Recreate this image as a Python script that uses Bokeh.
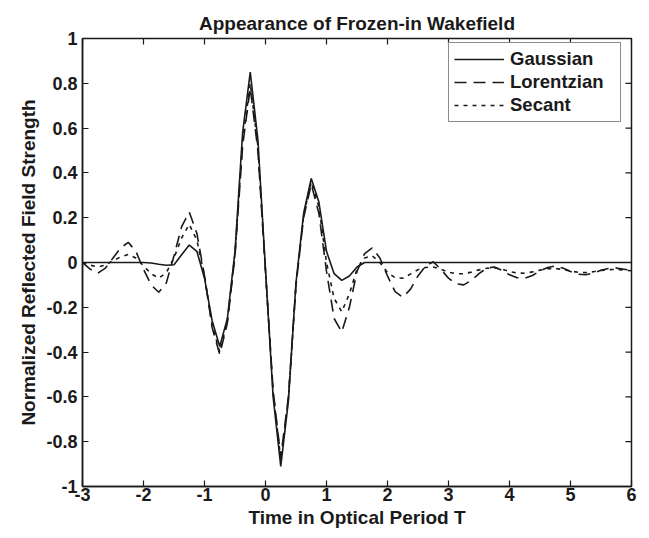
import math
from bokeh.plotting import figure
from bokeh.models import Range1d, FixedTicker, Legend, LegendItem
from bokeh.embed import file_html
from bokeh.resources import INLINE

# --- data ---
t = [-3, -2.875, -2.75, -2.625, -2.5, -2.375, -2.25, -2.125, -2, -1.875,
     -1.75, -1.625, -1.5, -1.375, -1.25, -1.125, -1, -0.875, -0.75, -0.625,
     -0.5, -0.375, -0.25, -0.125, 0, 0.125, 0.25, 0.375, 0.5, 0.625,
     0.75, 0.875, 1, 1.125, 1.25, 1.375, 1.5, 1.625, 1.75, 1.875,
     2, 2.125, 2.25, 2.375, 2.5, 2.625, 2.75, 2.875, 3, 3.125,
     3.25, 3.375, 3.5, 3.625, 3.75, 3.875, 4, 4.125, 4.25, 4.375,
     4.5, 4.625, 4.75, 4.875, 5, 5.125, 5.25, 5.375, 5.5, 5.625,
     5.75, 5.875, 6]

gaussian = [0, 0, 0, 0, 0, 0, 0, 0, 0, -0.002,
            -0.008, -0.012, -0.01, 0.035, 0.078, 0.05, -0.07, -0.26, -0.375, -0.25,
            0.05, 0.58, 0.85, 0.55, -0.03, -0.6, -0.91, -0.62, -0.09, 0.22,
            0.375, 0.27, 0.05, -0.05, -0.08, -0.06, -0.02, 0, 0, 0,
            0, 0, 0, 0, 0, 0, 0, 0, 0, 0,
            0, 0, 0, 0, 0, 0, 0, 0, 0, 0,
            0, 0, 0, 0, 0, 0, 0, 0, 0, 0,
            0, 0, 0]

lorentzian = [0, -0.03, -0.048, -0.025, 0.02, 0.065, 0.09, 0.05, -0.03, -0.1,
              -0.133, -0.09, 0.03, 0.16, 0.225, 0.13, -0.06, -0.29, -0.41, -0.27,
              0.03, 0.52, 0.78, 0.5, -0.04, -0.57, -0.87, -0.6, -0.1, 0.2,
              0.35, 0.22, -0.04, -0.25, -0.31, -0.2, -0.04, 0.04, 0.065, 0.02,
              -0.06, -0.13, -0.155, -0.12, -0.06, -0.015, 0.003, -0.03, -0.07, -0.095,
              -0.1, -0.08, -0.05, -0.025, -0.02, -0.035, -0.055, -0.068, -0.07, -0.058,
              -0.038, -0.022, -0.016, -0.025, -0.04, -0.052, -0.055, -0.047, -0.035, -0.027,
              -0.025, -0.03, -0.035]

secant = [0, -0.012, -0.02, -0.012, 0.008, 0.025, 0.036, 0.02, -0.015, -0.05,
          -0.07, -0.045, 0.02, 0.11, 0.17, 0.1, -0.06, -0.28, -0.4, -0.26,
          0.04, 0.54, 0.8, 0.52, -0.04, -0.58, -0.88, -0.61, -0.1, 0.21,
          0.36, 0.25, 0.0, -0.16, -0.22, -0.14, -0.03, 0.02, 0.03, 0.0,
          -0.045, -0.068, -0.07, -0.052, -0.032, -0.022, -0.02, -0.03, -0.043, -0.05,
          -0.05, -0.043, -0.033, -0.026, -0.024, -0.03, -0.04, -0.047, -0.048, -0.042,
          -0.034, -0.028, -0.027, -0.031, -0.038, -0.044, -0.045, -0.041, -0.036, -0.032,
          -0.031, -0.034, -0.037]

x_ticks = [-3, -2, -1, 0, 1, 2, 3, 4, 5, 6]
x_tick_labels = ["-3", "-2", "-1", "0", "1", "2", "3", "4", "5", "6"]
y_ticks = [-1, -0.8, -0.6, -0.4, -0.2, 0, 0.2, 0.4, 0.6, 0.8, 1]
y_tick_labels = ["-1", "-0.8", "-0.6", "-0.4", "-0.2", "0", "0.2", "0.4", "0.6", "0.8", "1"]

X_MIN, X_MAX = -3, 6
Y_MIN, Y_MAX = -1, 1

FONT = "Liberation Sans"
INK = "#1a1a1a"

p = figure(width=641, height=530, output_backend="svg", toolbar_location=None,
           x_range=Range1d(X_MIN, X_MAX), y_range=Range1d(Y_MIN, Y_MAX),
           min_border_left=82, min_border_right=10, min_border_top=38, min_border_bottom=42,
           title="Appearance of Frozen-in Wakefield")
p.title.align = "center"
p.title.text_font = FONT
p.title.text_font_size = "19px"
p.title.text_font_style = "bold"
p.title.text_color = INK
p.title.standoff = 10

p.xgrid.visible = False
p.ygrid.visible = False
p.outline_line_color = INK
p.outline_line_width = 1.5

def style_axis(ax, ticks, labels):
    ax.ticker = FixedTicker(ticks=ticks)
    ax.major_label_overrides = {tk: lb for tk, lb in zip(ticks, labels)}
    ax.minor_tick_line_color = None
    ax.major_tick_in = 6
    ax.major_tick_out = 0
    ax.major_tick_line_color = INK
    ax.major_tick_line_width = 1.2
    ax.axis_line_color = INK
    ax.axis_line_width = 1.5
    ax.major_label_text_font = FONT
    ax.major_label_text_font_style = "bold"
    ax.major_label_text_font_size = "18px"
    ax.major_label_text_color = INK
    ax.axis_label_text_font = FONT
    ax.axis_label_text_font_style = "bold"
    ax.axis_label_text_font_size = "19px"
    ax.axis_label_text_color = INK

style_axis(p.xaxis[0], x_ticks, x_tick_labels)
style_axis(p.yaxis[0], y_ticks, y_tick_labels)
p.xaxis[0].axis_label = "Time in Optical Period T"
p.yaxis[0].axis_label = "Normalized Reflected Field Strength"
p.xaxis[0].major_label_standoff = 1
p.xaxis[0].axis_label_standoff = 3
p.yaxis[0].major_label_standoff = 5
p.yaxis[0].axis_label_standoff = 4

# Matlab-style inward ticks on the top and right edges of the box
p.ray(x=x_ticks, y=[Y_MAX] * len(x_ticks), length=6, length_units="screen",
      angle=-math.pi / 2, line_color=INK, line_width=1.2)
p.ray(x=[X_MAX] * len(y_ticks), y=y_ticks, length=6, length_units="screen",
      angle=math.pi, line_color=INK, line_width=1.2)

lw = 1.6
r_l = p.line(t, lorentzian, line_color=INK, line_width=lw, line_dash="12 7")
r_s = p.line(t, secant, line_color=INK, line_width=lw, line_dash="4 5")
r_g = p.line(t, gaussian, line_color=INK, line_width=lw)

legend = Legend(items=[LegendItem(label="Gaussian", renderers=[r_g]),
                       LegendItem(label="Lorentzian", renderers=[r_l]),
                       LegendItem(label="Secant", renderers=[r_s])],
                location=(366, 364))
legend.label_text_font = FONT
legend.label_text_font_style = "bold"
legend.label_text_font_size = "18.5px"
legend.label_text_color = INK
legend.glyph_width = 50
legend.glyph_height = 22
legend.label_height = 22
legend.label_width = 105
legend.label_standoff = 6
legend.spacing = 1
legend.padding = 5
legend.margin = 0
legend.border_line_color = INK
legend.border_line_width = 1.5
legend.background_fill_alpha = 1.0
p.add_layout(legend)

open("out.html", "w").write(file_html(p, INLINE))
